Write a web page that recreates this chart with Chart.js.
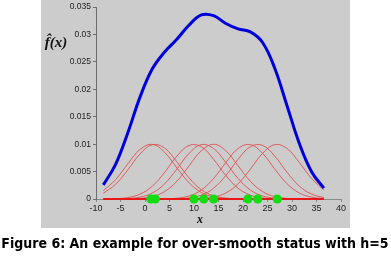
<!DOCTYPE html>
<html><head><meta charset="utf-8">
<script src="https://cdn.jsdelivr.net/npm/chart.js@4"></script>
<style>html,body{margin:0;padding:0;background:#fff;}canvas{display:block;}</style>
</head><body>
<canvas id="c" width="391" height="256"></canvas>
<script>
// grid of x positions where the curves were read
const gridX = [-8.5, -6, -3.5, -1, 1.5, 4, 6.5, 9, 11.5, 14, 16.5, 19, 21.5, 24, 26.5, 29, 31.5, 34, 36.5];
// observed sample points (green dots on the axis)
const samplePoints = [1.2, 2.1, 10, 12, 14, 21, 23, 27];
// individual kernel bumps (thin red curves)
const kernel1 = [0.00152, 0.00354, 0.00641, 0.00905, 0.00995, 0.00852, 0.00568, 0.00295, 0.00119, 0.00038, 0.00009, 0.00002, 0, 0, 0, 0, 0, 0, 0];
const kernel2 = [0.00105, 0.00268, 0.00532, 0.00823, 0.0099, 0.00928, 0.00677, 0.00385, 0.0017, 0.00059, 0.00016, 0.00003, 0.00001, 0, 0, 0, 0, 0, 0];
const kernel3 = [0.00001, 0.00006, 0.00026, 0.00089, 0.00235, 0.00485, 0.00781, 0.00977, 0.00953, 0.00724, 0.00428, 0.00197, 0.00071, 0.0002, 0.00004, 0.00001, 0, 0, 0];
const kernel4 = [0, 0.00002, 0.00008, 0.00034, 0.0011, 0.00277, 0.00544, 0.00833, 0.00992, 0.0092, 0.00665, 0.00374, 0.00164, 0.00056, 0.00015, 0.00003, 0, 0, 0];
const kernel5 = [0, 0, 0.00002, 0.00011, 0.00044, 0.00135, 0.00324, 0.00605, 0.0088, 0.00997, 0.0088, 0.00605, 0.00324, 0.00135, 0.00044, 0.00011, 0.00002, 0, 0];
const kernel6 = [0, 0, 0, 0, 0, 0.00003, 0.00015, 0.00056, 0.00164, 0.00374, 0.00665, 0.0092, 0.00992, 0.00833, 0.00544, 0.00277, 0.0011, 0.00034, 0.00008];
const kernel7 = [0, 0, 0, 0, 0, 0.00001, 0.00004, 0.0002, 0.00071, 0.00197, 0.00428, 0.00724, 0.00953, 0.00977, 0.00781, 0.00485, 0.00235, 0.00089, 0.00026];
const kernel8 = [0, 0, 0, 0, 0, 0, 0, 0.00002, 0.00008, 0.00034, 0.0011, 0.00277, 0.00544, 0.00833, 0.00992, 0.0092, 0.00665, 0.00374, 0.00164];
// density estimate (thick blue curve)
const densityValues = [0.00258, 0.0063, 0.01209, 0.01862, 0.02374, 0.02681, 0.02913, 0.03173, 0.03357, 0.03343, 0.03201, 0.03102, 0.03049, 0.02854, 0.0238, 0.01697, 0.01012, 0.00497, 0.00198];
// baseline along y = 0
const baselineValues = [0, 0, 0, 0, 0, 0, 0, 0, 0, 0, 0, 0, 0, 0, 0, 0, 0, 0, 0];
const xTickLabels = ['-10', '-5', '0', '5', '10', '15', '20', '25', '30', '35', '40'];
const yTickLabels = ['0', '0.005', '0.01', '0.015', '0.02', '0.025', '0.03', '0.035'];
const yTitle = 'f\u0302(x)';
const xTitle = 'x';
const caption = 'Figure 6: An example for over-smooth status with h=5';

const pairs = (xs, ys) => xs.map((x, i) => ({x: x, y: ys[i]}));
const kernels = [kernel1, kernel2, kernel3, kernel4, kernel5, kernel6, kernel7, kernel8];

const datasets = [
  {label: 'points', data: samplePoints.map(x => ({x: x, y: 0})), showLine: false,
   pointRadius: 4.6, pointBackgroundColor: '#11dd11', pointBorderWidth: 0, order: 0, clip: false},
  {label: 'baseline', data: pairs(gridX, baselineValues), showLine: true, borderColor: '#e81818', borderWidth: 2,
   pointRadius: 0, order: 1, clip: false},
  {label: 'density', data: pairs(gridX, densityValues), showLine: true, borderColor: '#0000dd', borderWidth: 3,
   pointRadius: 0, tension: 0.4, order: 2, clip: false}
];
kernels.forEach((k, i) => datasets.push({label: 'k' + (i + 1), data: pairs(gridX, k), showLine: true,
  borderColor: 'rgba(222,80,80,0.9)', borderWidth: 1, pointRadius: 0, tension: 0.4, order: 3, clip: false}));

const decor = {
  id: 'decor',
  beforeDraw(chart) {
    const {ctx, chartArea} = chart;
    ctx.save();
    ctx.fillStyle = '#cccccc';
    ctx.fillRect(chartArea.left - 55, 0, 309, chartArea.bottom + 29);
    ctx.restore();
  },
  afterDraw(chart) {
    const {ctx, chartArea} = chart;
    ctx.save();
    ctx.fillStyle = '#111';
    ctx.textAlign = 'center';
    ctx.textBaseline = 'middle';
    ctx.font = 'bold italic 15px "Liberation Serif"';
    ctx.fillText(yTitle, chartArea.left - 40, chartArea.top + 36);
    ctx.font = 'bold italic 12px "Liberation Serif"';
    ctx.fillText(xTitle, chartArea.left + 104, chartArea.bottom + 21);
    ctx.fillStyle = '#000';
    ctx.font = 'bold 14px "DejaVu Sans Condensed", "DejaVu Sans"';
    ctx.fillText(caption, 195, chartArea.bottom + 45);
    ctx.restore();
  }
};

new Chart(document.getElementById('c'), {
  type: 'scatter',
  data: {datasets: datasets},
  options: {
    responsive: false,
    animation: false,
    layout: {padding: {left: 0, top: 6, right: 50, bottom: 37}},
    plugins: {legend: {display: false}, tooltip: {enabled: false}, title: {display: false}},
    scales: {
      x: {
        type: 'linear', min: -10, max: 40,
        afterFit(s) { s.height = 20; },
        border: {display: true, color: '#8a8a8a', width: 1},
        grid: {display: true, drawOnChartArea: false, tickLength: 3, color: '#8a8a8a'},
        ticks: {stepSize: 5, padding: 1, color: '#222', maxRotation: 0,
                font: {family: 'Liberation Sans', size: 9},
                callback: (v, i) => xTickLabels[i]}
      },
      y: {
        type: 'linear', min: 0, max: 0.035,
        afterFit(s) { s.width = 96; },
        border: {display: true, color: '#6e6e6e', width: 1},
        grid: {display: true, drawOnChartArea: false, tickLength: 3, color: '#6e6e6e'},
        ticks: {stepSize: 0.005, padding: 2, color: '#222',
                font: {family: 'Liberation Sans', size: 8.5},
                callback: (v, i) => yTickLabels[i]}
      }
    }
  },
  plugins: [decor]
});
</script>
</body></html>
